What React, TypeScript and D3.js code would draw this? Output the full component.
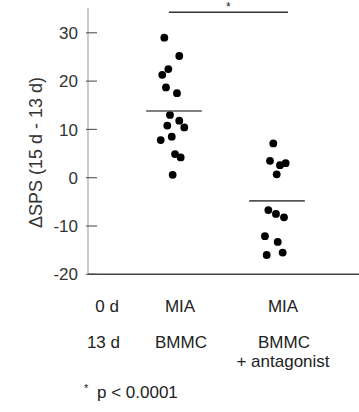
import React from "react";
import * as d3 from "d3";

const groups = ["MIA / BMMC", "MIA / BMMC + antagonist"];
const bmmcValues = [29.0, 25.2, 22.5, 21.3, 18.7, 17.5, 13.0, 11.8, 10.4, 10.8, 8.5, 7.8, 4.9, 4.2, 0.6];
const bmmcJitter = [-0.094, 0.051, -0.055, -0.114, -0.078, 0.029, -0.039, 0.051, 0.1, -0.065, -0.022, -0.129, 0.01, 0.065, -0.013];
const antagValues = [7.1, 3.5, 2.6, 3.0, 0.7, -6.7, -7.5, -8.2, -12.1, -13.3, -16.0, -15.5];
const antagJitter = [-0.036, -0.068, 0.029, 0.084, -0.003, -0.084, -0.01, 0.068, -0.117, 0.007, -0.1, 0.055];
const means = [13.8, -4.8];
const yTicks = [30, 20, 10, 0, -10, -20];
const row1Labels = ["0 d", "MIA", "MIA"];
const row2Labels = ["13 d", "BMMC", "BMMC"];
const row3Label = "+ antagonist";
const yLabel = "ΔSPS (15 d - 13 d)";
const footnote = "p < 0.0001";

export default function App() {
  const W = 359, H = 412;
  const y = d3.scaleLinear().domain([-20, 30]).range([274.3, 32.8]);
  const x = d3.scaleLinear().domain([0, 1]).range([174, 277]);
  const axisX = 88;
  const font = "'Liberation Sans', Arial, Helvetica, sans-serif";
  const series = [
    { values: bmmcValues, jitter: bmmcJitter },
    { values: antagValues, jitter: antagJitter },
  ];
  const half = 0.27;
  return (
    <svg width={W} height={H} style={{ position: "absolute", left: 0, top: 0, background: "#fff" }} fontFamily={font}>
      {/* y axis */}
      <line x1={axisX} x2={axisX} y1={8} y2={y(-20)} stroke="#bdbdbd" strokeWidth={1.6} />
      {yTicks.map((t) => (
        <g key={t}>
          <line x1={86} x2={97} y1={y(t)} y2={y(t)} stroke="#555" strokeWidth={1.1} />
          <text x={78} y={y(t)} dy="0.36em" textAnchor="end" fontSize={17} fill="#333">
            {t}
          </text>
        </g>
      ))}
      <line x1={axisX} x2={W} y1={y(-20)} y2={y(-20)} stroke="#444" strokeWidth={1.5} />
      <text
        transform={`translate(42, 152.5) rotate(-90)`}
        textAnchor="middle"
        fontSize={18}
        fill="#333"
      >
        {yLabel}
      </text>
      {/* significance bracket */}
      <line x1={x(-0.05)} x2={x(1.107)} y1={12.3} y2={12.3} stroke="#333" strokeWidth={1.5} />
      <text x={(x(-0.05) + x(1.107)) / 2} y={10.5} textAnchor="middle" fontSize={12} fill="#222">
        *
      </text>
      {/* dots */}
      {series.map((s, gi) =>
        s.values.map((v, i) => (
          <circle key={`${gi}-${i}`} cx={x(gi + s.jitter[i])} cy={y(v)} r={3.9} fill="#000" />
        ))
      )}
      {/* means */}
      {means.map((m, gi) => (
        <line
          key={groups[gi]}
          x1={x(gi - half)}
          x2={x(gi + half)}
          y1={y(m)}
          y2={y(m)}
          stroke="#555"
          strokeWidth={1.6}
        />
      ))}
      {/* category labels */}
      <text x={119} y={312} textAnchor="end" fontSize={17} fill="#222">{row1Labels[0]}</text>
      <text x={120} y={348} textAnchor="end" fontSize={17} fill="#222">{row2Labels[0]}</text>
      {groups.map((g, gi) => (
        <g key={g}>
          <text x={x(gi) + 6} y={312} textAnchor="middle" fontSize={17} fill="#222">{row1Labels[gi + 1]}</text>
          <text x={x(gi) + 7} y={348} textAnchor="middle" fontSize={17} fill="#222">{row2Labels[gi + 1]}</text>
        </g>
      ))}
      <text x={x(1) + 6} y={367} textAnchor="middle" fontSize={17} fill="#222">{row3Label}</text>
      {/* footnote */}
      <text x={84} y={392} fontSize={11} fill="#222">*</text>
      <text x={97} y={398} fontSize={17} fill="#222">{footnote}</text>
    </svg>
  );
}
